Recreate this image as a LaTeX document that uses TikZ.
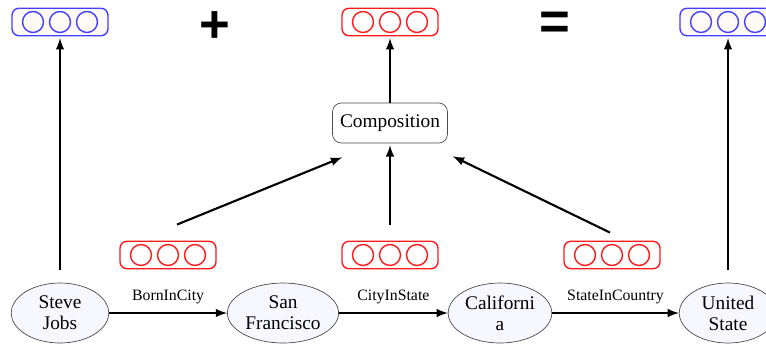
\documentclass[tikz,border=0pt]{standalone}
\usepackage{fontspec}
\setmainfont{Liberation Serif}
\setsansfont{Liberation Sans}
\usetikzlibrary{shapes.geometric,positioning}

\tikzset{
  entity/.style={ellipse, draw=black!70, fill=blue!3, minimum width=1.95cm, minimum height=1.2cm, align=center, inner sep=1pt, font=\fontsize{11}{12}\selectfont},
  relbox/.style={rectangle, rounded corners=5pt, draw=black!70, fill=white, minimum width=2.3cm, minimum height=0.8cm, font=\fontsize{11}{12}\selectfont},
  vecbox/.style={rectangle, rounded corners=4pt, line width=0.8pt, minimum width=1.92cm, minimum height=0.55cm, inner sep=0pt},
  relname/.style={font=\small, above},
  sign/.style={font=\fontsize{30}{30}\selectfont\bfseries\sffamily, inner sep=0pt},
}

% vector of three units: name, colour, fill, position
\newcommand{\embvec}[4]{%
  \node[vecbox, draw=#2, fill=#3] (#1) at #4 {};
  \foreach \dx in {-27,0,27}
    \draw[#2, line width=0.8pt] ([xshift=\dx*0.02cm]#1.center) circle (0.21cm);
}

\begin{document}
\begin{tikzpicture}[x=0.02cm,y=-0.02cm,>=latex]
        \useasboundingbox (0,0) rectangle (766,349);

        % Entities
        \node[entity] (steve) at (60,313) {Steve\\Jobs};
        \node[entity] (sanfr) at (283,313) {San\\Francisco};
        \node[entity] (calif) at (500,313) {Californi\\a};
        \node[entity] (usa) at (728,313) {United\\State};

        % Relations
        \draw[->, line width=1.2pt] (steve) -- (sanfr) node[relname, midway, yshift=1pt] {BornInCity};
        \draw[->, line width=1.2pt] (sanfr) -- (calif) node[relname, midway, yshift=1pt] {CityInState};
        \draw[->, line width=1.2pt] (calif) -- (usa) node[relname, midway, yshift=1pt] {StateInCountry};

        % Relation vectors
        \embvec{rvecA}{red!90}{white}{(168,255)}
        \embvec{rvecB}{red!90}{white}{(390,255)}
        \embvec{rvecC}{red!90}{white}{(612,255)}

        % Composition
        \node[relbox] (comp) at (390,123) {Composition};
        \embvec{rvecTop}{red!90}{white}{(390,22)}

        \draw[->, line width=1.2pt] ([shift={(9,-16)}]rvecA.north) -- ([shift={(10,14)}]comp.south west);
        \draw[->, line width=1.2pt] ([shift={(0,-16)}]rvecB.north) -- ([shift={(0,2)}]comp.south);
        \draw[->, line width=1.2pt] ([shift={(-2,-8)}]rvecC.north) -- ([shift={(5,13)}]comp.south east);
        \draw[->, line width=1.2pt, shorten >=1pt] (comp.north) -- (rvecTop.south);

        % Entity vectors
        \embvec{evecHead}{blue!75}{orange!4}{(60,22)}
        \embvec{evecTail}{blue!75}{orange!4}{(728,22)}
        \draw[->, line width=1.2pt, shorten <=7pt, shorten >=1pt] (steve.north) -- (evecHead.south);
        \draw[->, line width=1.2pt, shorten <=7pt, shorten >=1pt] (usa.north) -- (evecTail.south);

        % Equation
        \node[sign] (plus) at (215,27) {+};
        \node[sign] (equal) at (555,26) {=};
\end{tikzpicture}
\end{document}
